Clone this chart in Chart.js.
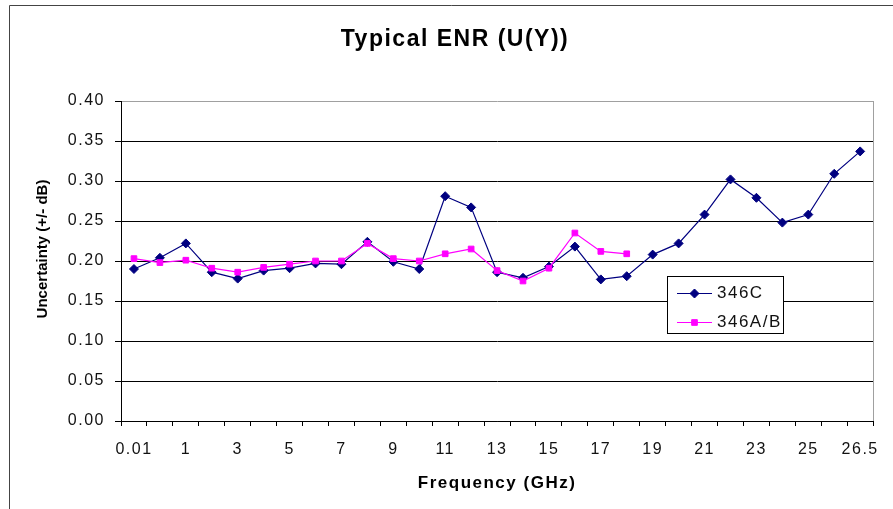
<!DOCTYPE html>
<html>
<head>
<meta charset="utf-8">
<script src="https://cdn.jsdelivr.net/npm/chart.js@4/dist/chart.umd.min.js"></script>
<style>
  html, body { margin: 0; padding: 0; background: #fff; }
</style>
</head>
<body>
<canvas id="enrChart" width="893" height="509"></canvas>
<script>
// frequency points (GHz), only every second one gets a label on the axis
const freqLabels = ["0.01", "0.5", "1", "2", "3", "4", "5", "6", "7", "8", "9", "10",
  "11", "12", "13", "14", "15", "16", "17", "18", "19", "20", "21", "22", "23",
  "24", "25", "26", "26.5"]

// uncertainty (+/- dB)
const unc346C = [0.190, 0.204, 0.222, 0.186, 0.178, 0.188, 0.191, 0.197, 0.196, 0.224,
  0.199, 0.190, 0.281, 0.267, 0.186, 0.179, 0.193, 0.218, 0.177, 0.181,
  0.208, 0.222, 0.258, 0.302, 0.279, 0.248, 0.258, 0.309, 0.337]
const unc346AB = [0.203, 0.198, 0.201, 0.191, 0.186, 0.192, 0.196, 0.200, 0.200, 0.222,
  0.203, 0.200, 0.209, 0.215, 0.188, 0.175, 0.191, 0.235, 0.212, 0.209]

const yMin = 0
const yMax = 0.4
const yStep = 0.05
const yTitle = "Uncertainty (+/- dB)"

const FONT = "'Liberation Sans', Arial, sans-serif"

// excel draws its text a bit spread out
const spacing = {
  id: "spacing",
  beforeLayout(chart) { chart.ctx.letterSpacing = "1.5px" },
  beforeDraw(chart) { chart.ctx.letterSpacing = "1.5px" }
}

// outer frame, grey right edge of the plot area and the y title
const frame = {
  id: "frame",
  beforeDatasetsDraw(chart) {
    const ctx = chart.ctx
    const area = chart.chartArea
    ctx.save()
    ctx.lineWidth = 1
    ctx.strokeStyle = "#444"
    ctx.beginPath()
    ctx.moveTo(9.5, 509)
    ctx.lineTo(9.5, 5.5)
    ctx.lineTo(893, 5.5)
    ctx.stroke()
    ctx.strokeStyle = "#a0a0a0"
    ctx.beginPath()
    ctx.moveTo(Math.round(area.right) + 0.5, area.top)
    ctx.lineTo(Math.round(area.right) + 0.5, area.bottom)
    ctx.stroke()

    // y title is tighter than the rest of the text
    ctx.letterSpacing = "0px"
    ctx.translate(43, 249)
    ctx.rotate(-Math.PI / 2)
    ctx.fillStyle = "#000"
    ctx.font = "bold 15px " + FONT
    ctx.textAlign = "center"
    ctx.textBaseline = "middle"
    ctx.fillText(yTitle, 0, 0)
    ctx.restore()
  }
}

// boxed legend sitting inside the plot, like the excel one
const boxLegend = {
  id: "boxLegend",
  afterDatasetsDraw(chart) {
    const ctx = chart.ctx
    ctx.save()
    ctx.fillStyle = "#fff"
    ctx.fillRect(667, 276, 116, 57)
    ctx.strokeStyle = "#000"
    ctx.lineWidth = 1
    ctx.strokeRect(667.5, 276.5, 116, 57)
    chart.data.datasets.forEach((ds, i) => {
      const y = 293.5 + i * 29
      ctx.strokeStyle = ds.borderColor
      ctx.lineWidth = 1
      ctx.beginPath()
      ctx.moveTo(677, y)
      ctx.lineTo(712, y)
      ctx.stroke()
      ctx.fillStyle = ds.backgroundColor
      Chart.helpers.drawPoint(ctx, {
        pointStyle: ds.pointStyle,
        radius: ds.pointRadius,
        borderWidth: 1,
        rotation: 0
      }, 694.5, y)
      ctx.fillStyle = "#111"
      ctx.font = "17px " + FONT
      ctx.textBaseline = "middle"
      ctx.textAlign = "left"
      ctx.fillText(ds.label, 717, y)
    })
    ctx.restore()
  }
}

const canvas = document.getElementById("enrChart")

new Chart(canvas.getContext("2d"), {
  type: "line",
  data: {
    labels: freqLabels,
    datasets: [
      {
        label: "346C",
        data: unc346C,
        borderColor: "#000080",
        backgroundColor: "#000080",
        borderWidth: 1.2,
        pointStyle: "rectRot",
        pointRadius: 4.5,
        pointBorderWidth: 1,
        tension: 0,
        order: 2
      },
      {
        label: "346A/B",
        data: unc346AB,
        borderColor: "#ff00ff",
        backgroundColor: "#ff00ff",
        borderWidth: 1.2,
        pointStyle: "rect",
        pointRadius: 4,
        pointBorderWidth: 1,
        tension: 0,
        order: 1
      }
    ]
  },
  options: {
    responsive: false,
    animation: false,
    devicePixelRatio: 1,
    layout: { padding: { left: 32, right: 15, top: 0, bottom: 0 } },
    plugins: {
      legend: { display: false },
      tooltip: { enabled: false },
      title: {
        display: true,
        text: "Typical ENR (U(Y))",
        color: "#000",
        font: { family: FONT, size: 23, weight: "bold" },
        padding: { top: 26, bottom: 47.4 }
      }
    },
    scales: {
      x: {
        offset: true,
        grid: { offset: true, drawOnChartArea: false, tickLength: 5, tickColor: "#000" },
        border: { color: "#000", width: 1 },
        ticks: {
          autoSkip: false,
          maxRotation: 0,
          padding: 14,
          color: "#111",
          font: { family: FONT, size: 16 },
          callback: function (value, index) {
            return index % 2 === 0 ? this.getLabelForValue(value) : ""
          }
        },
        title: {
          display: true,
          text: "Frequency (GHz)",
          color: "#000",
          font: { family: FONT, size: 17, weight: "bold" },
          padding: { top: 0, bottom: 15 }
        },
        afterFit(scale) { scale.height = 88 }
      },
      y: {
        min: yMin,
        max: yMax,
        grid: {
          color: (c) => (c.tick && c.tick.value > yMax - 0.001 ? "#a0a0a0" : "#000"),
          tickColor: "#000",
          tickLength: 6,
          lineWidth: 1
        },
        border: { color: "#000", width: 1 },
        ticks: {
          stepSize: yStep,
          padding: 10,
          color: "#111",
          font: { family: FONT, size: 16 },
          callback: (v) => v.toFixed(2)
        },
        afterFit(scale) { scale.width = 89 }
      }
    }
  },
  plugins: [spacing, frame, boxLegend]
})
</script>
</body>
</html>
